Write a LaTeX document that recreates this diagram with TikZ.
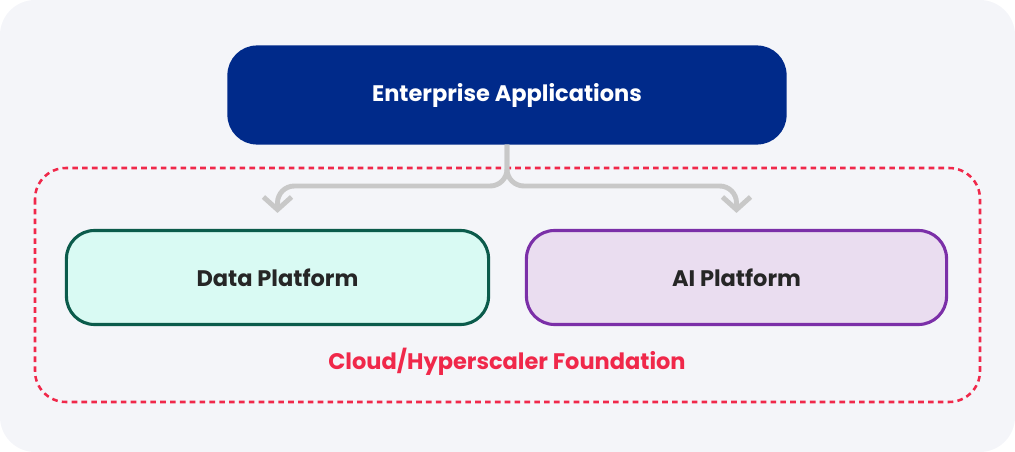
\documentclass[tikz,border=0pt]{standalone}
\usepackage{fontspec}
\setmainfont{Poppins}
\usetikzlibrary{arrows.meta}
\definecolor{bgcol}{HTML}{F4F5F9}
\definecolor{entblue}{HTML}{002A8A}
\definecolor{found}{HTML}{F0284A}
\definecolor{datafill}{HTML}{D9FAF3}
\definecolor{dataline}{HTML}{0B5B4B}
\definecolor{aifill}{HTML}{EADDF0}
\definecolor{ailine}{HTML}{7B2FA8}
\definecolor{linkcol}{HTML}{C8C8C8}
\tikzset{
  box/.style={rounded corners=20pt, line width=2.2pt, minimum height=2.35cm, font=\bfseries\fontsize{16}{18}\selectfont, text=black!85},
  link/.style={draw=linkcol, line width=3.5pt, rounded corners=12pt, -{Straight Barb[length=9pt,width=20pt,line width=3.5pt]}}
}
\begin{document}
\begin{tikzpicture}[x=0.025cm,y=-0.025cm]
\fill[bgcol, rounded corners=25pt] (0,0) rectangle (1015,452);

\node[box, fill=entblue, draw=entblue, text=white, minimum width=13.9cm, minimum height=2.4cm] (ent) at (507,95) {Enterprise Applications};

\draw[found, line width=1.8pt, dash pattern=on 4pt off 3pt, rounded corners=22pt] (35,168) rectangle (980,402);
\node[text=found, font=\bfseries\fontsize{16}{18}\selectfont] (cloud) at (507,362) {Cloud/Hyperscaler Foundation};

\node[box, fill=datafill, draw=dataline, minimum width=10.55cm] (data) at (277.5,277.5) {Data Platform};
\node[box, fill=aifill, draw=ailine, minimum width=10.5cm] (ai) at (736.5,277.5) {AI Platform};

\coordinate (split) at (507,186);
\draw[link] (ent.south) -- (split) -| ([yshift=0.4cm]data.north);
\draw[link] (ent.south) -- (split) -| ([yshift=0.4cm]ai.north);
\end{tikzpicture}
\end{document}
